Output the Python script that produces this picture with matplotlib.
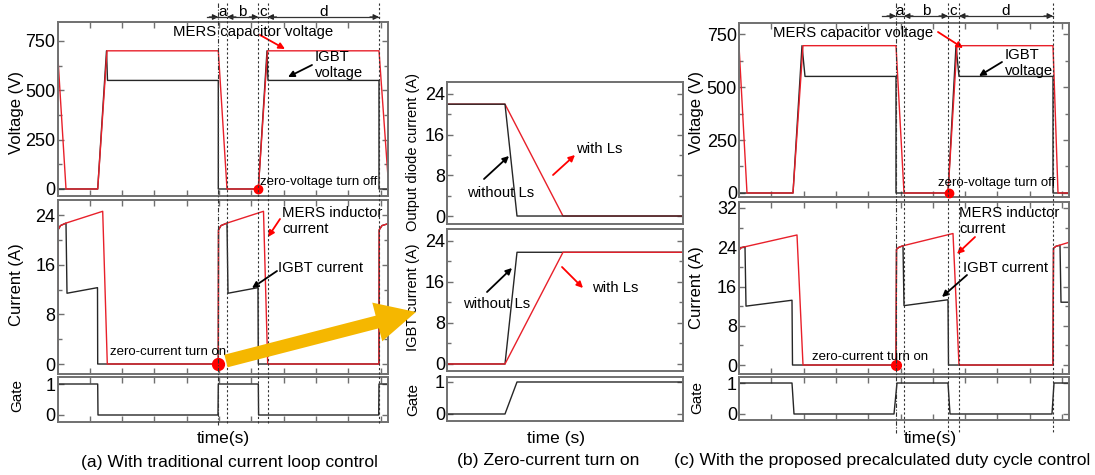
import numpy as np
import matplotlib
matplotlib.use("Agg")
import matplotlib.pyplot as plt
from matplotlib.patches import FancyArrowPatch, Polygon
from matplotlib.lines import Line2D
import matplotlib.transforms as mtransforms

plt.rcParams['font.family'] = ['Liberation Sans', 'DejaVu Sans']

# ---------------- data (time in arbitrary units) ----------------
# (a) traditional current loop control
a_t_vcap = [0, 0.85, 4.02, 4.95, 16.08, 16.95, 20.08, 21.0, 32.15, 33.05]
a_vcap = [700, 0, 0, 700, 700, 0, 0, 700, 700, 60]
a_t_vigbt = [0, 4.02, 4.9, 5.0, 16.08, 16.08, 20.08, 20.95, 21.05, 32.15, 32.15, 33.05]
a_vigbt = [0, 0, 700, 550, 550, 0, 0, 700, 550, 550, 0, 0]
a_t_iL = [0, 0.05, 0.3, 0.85, 4.52, 4.98, 16.08, 16.1, 16.35, 16.95, 20.6, 21.02,
          32.15, 32.17, 32.45, 33.05]
a_iL = [3, 21.6, 22.3, 22.7, 24.6, 0, 0, 21.6, 22.3, 22.7, 24.6, 0, 0, 21.6, 22.3, 22.6]
a_t_iigbt = [0, 0.05, 0.3, 0.85, 0.95, 4.0, 4.02, 16.08, 16.1, 16.35, 16.95, 17.05,
             20.05, 20.08, 32.15, 32.17, 32.45, 33.05]
a_iigbt = [3, 21.6, 22.3, 22.7, 11.4, 12.3, 0, 0, 21.6, 22.3, 22.7, 11.4, 12.3, 0, 0,
           21.6, 22.3, 22.6]
a_t_gate = [0, 4.02, 4.05, 16.05, 16.08, 20.08, 20.11, 32.12, 32.15, 33.05]
a_gate = [1, 1, 0, 0, 1, 1, 0, 0, 1, 1]
a_marks = [16.08, 16.95, 20.08, 21.0, 32.15]
a_zvs = (20.08, 0)
a_zcs = (16.08, 0)

# (b) zero-current turn on
b_t_wo = [0, 5.8, 7.0, 23.6]
b_t_w = [0, 5.8, 11.6, 23.6]
b_diode_wo = [22, 22, 0, 0]
b_diode_w = [22, 22, 0, 0]
b_igbt_wo = [0, 0, 21.8, 21.8]
b_igbt_w = [0, 0, 21.8, 21.8]
b_t_gate = [0, 5.8, 7.0, 23.6]
b_gate = [0, 0, 1, 1]

# (c) proposed precalculated duty cycle control
c_t_vcap = [0, 0.8, 5.4, 6.4, 15.7, 16.5, 20.9, 21.8, 31.4, 31.9, 33.0]
c_vcap = [695, 0, 0, 695, 695, 0, 0, 695, 695, 0, 0]
c_t_vigbt = [0, 5.4, 6.3, 6.6, 15.7, 15.7, 20.9, 21.7, 22.0, 31.4, 31.4, 33.0]
c_vigbt = [0, 0, 695, 550, 550, 0, 0, 695, 550, 550, 0, 0]
c_t_iL = [0, 0.03, 0.2, 0.6, 5.8, 6.4, 15.7, 15.75, 16.0, 16.4, 21.4, 22.0,
          31.4, 31.45, 31.7, 33.0]
c_iL = [0, 23.5, 23.9, 24.1, 26.5, 0, 0, 23.6, 24.0, 24.3, 26.8, 0, 0, 23.8, 24.2, 25.0]
c_t_iigbt = [0, 0.03, 0.2, 0.6, 0.7, 5.3, 5.35, 15.7, 15.75, 16.0, 16.4, 16.5, 20.9,
             20.95, 31.4, 31.45, 31.7, 32.1, 32.2, 33.0]
c_iigbt = [0, 23.5, 23.9, 24.1, 12.0, 13.2, 0, 0, 23.6, 24.0, 24.3, 12.1, 13.3, 0, 0,
           23.8, 24.2, 24.4, 12.8, 12.8]
c_t_gate = [0, 5.3, 5.5, 15.5, 15.8, 20.9, 21.1, 31.3, 31.5, 33.0]
c_gate = [1, 1, 0, 0, 1, 1, 0, 0, 1, 1]
c_marks = [15.7, 16.5, 20.9, 22.0, 31.4]
c_zvs = (21.0, 0)
c_zcs = (15.7, 0)

interval_labels = ['a', 'b', 'c', 'd']

# ---------------- styling ----------------
W, H = 1095, 475
RED = '#e8202a'
BLK = '#262626'
SPINE = '#707070'
fig = plt.figure(figsize=(W / 100, H / 100), dpi=100)


def add_ax(l, t, r, b):
    return fig.add_axes([l / W, 1 - b / H, (r - l) / W, (b - t) / H])


def P(x, y):
    return (x / 100.0, (H - y) / 100.0)


def T(x, y, s, size, ha='left', va='center', rot=0, color='black'):
    fig.text(x / 100.0, (H - y) / 100.0, s, transform=fig.dpi_scale_trans,
             fontsize=size, ha=ha, va=va, rotation=rot, color=color)


def A(x1, y1, x2, y2, color):
    fig.add_artist(FancyArrowPatch(P(x1, y1), P(x2, y2), transform=fig.dpi_scale_trans,
                                   arrowstyle='-|>', mutation_scale=9, lw=1.3,
                                   color=color, shrinkA=0, shrinkB=0))


def style(ax, xlim, ylim, yt, ym, xt=None, lsize=13):
    ax.set_xlim(*xlim)
    ax.set_ylim(*ylim)
    ax.set_yticks(yt)
    ax.set_yticklabels([str(v) for v in yt])
    if ym is not None:
        ax.set_yticks(ym, minor=True)
    if xt is not None:
        ax.set_xticks(xt)
    else:
        ax.set_xticks([])
    ax.set_xticklabels([])
    for s in ax.spines.values():
        s.set_color(SPINE)
        s.set_linewidth(1.4)
    ax.tick_params(which='both', direction='in', top=True, right=True,
                   color=SPINE, labelsize=lsize, pad=1.5)
    ax.tick_params(which='major', length=4, width=1)
    ax.tick_params(which='minor', length=3, width=1)


xt_lr = np.arange(3.23, 33.0, 3.23)

# ---------------- panel (a) ----------------
vL = add_ax(57.5, 22, 388, 196)
iL = add_ax(57.5, 200, 388, 374)
gL = add_ax(57.5, 377, 388, 422)
vL.plot(a_t_vigbt, a_vigbt, color=BLK, lw=1.0)
vL.plot(a_t_vcap, a_vcap, color=RED, lw=1.0)
iL.plot(a_t_iigbt, a_iigbt, color=BLK, lw=1.0)
iL.plot(a_t_iL, a_iL, color=RED, lw=1.0)
gL.plot(a_t_gate, a_gate, color=BLK, lw=1.0)
style(vL, (0, 33.05), (-35.5, 846), [0, 250, 500, 750], [125, 375, 625], xt_lr)
style(iL, (0, 33.05), (-1.61, 26.42), [0, 8, 16, 24], [4, 12, 20], xt_lr)
style(gL, (0, 33.05), (-0.226, 1.226), [0, 1], None, xt_lr)
vL.plot(*a_zvs, 'o', color='red', ms=6, clip_on=False, zorder=5)
iL.plot(*a_zcs, 'o', color='red', ms=8.5, clip_on=False, zorder=5)

# ---------------- panel (b) ----------------
dM = add_ax(447, 82, 683, 224)
iM = add_ax(447, 229, 683, 371)
gM = add_ax(447, 377, 683, 421)
dM.plot(b_t_w, b_diode_w, color=RED, lw=1.0)
dM.plot(b_t_wo, b_diode_wo, color=BLK, lw=1.0)
iM.plot(b_t_wo, b_igbt_wo, color=BLK, lw=1.0)
iM.plot(b_t_w, b_igbt_w, color=RED, lw=1.0)
gM.plot(b_t_gate, b_gate, color=BLK, lw=1.0)
style(dM, (0, 23.6), (-1.57, 26.36), [0, 8, 16, 24], [4, 12, 20])
style(iM, (0, 23.6), (-1.37, 26.34), [0, 8, 16, 24], [4, 12, 20])
style(gM, (0, 23.6), (-0.219, 1.156), [0, 1], None)

# ---------------- panel (c) ----------------
vR = add_ax(739, 23, 1069, 197)
iR = add_ax(739, 202, 1069, 374)
gR = add_ax(739, 377, 1069, 420)
vR.plot(c_t_vigbt, c_vigbt, color=BLK, lw=1.0)
vR.plot(c_t_vcap, c_vcap, color=RED, lw=1.0)
iR.plot(c_t_iigbt, c_iigbt, color=BLK, lw=1.0)
iR.plot(c_t_iL, c_iL, color=RED, lw=1.0)
gR.plot(c_t_gate, c_gate, color=BLK, lw=1.0)
style(vR, (0, 33.0), (-18.9, 802), [0, 250, 500, 750], [125, 375, 625], xt_lr)
style(iR, (0, 33.0), (-1.83, 33.22), [0, 8, 16, 24, 32], [4, 12, 20, 28], xt_lr)
style(gR, (0, 33.0), (-0.194, 1.194), [0, 1], None, xt_lr)
vR.plot(*c_zvs, 'o', color='red', ms=6, clip_on=False, zorder=5)
iR.plot(*c_zcs, 'o', color='red', ms=7, clip_on=False, zorder=5)


# ---------------- interval markers ----------------
def markers(ax, marks, y_top, y_bot, y_arrow, x_start):
    tr = mtransforms.blended_transform_factory(ax.transData, fig.dpi_scale_trans)
    yt = (H - y_top) / 100.0
    yb = (H - y_bot) / 100.0
    ya = (H - y_arrow) / 100.0
    for k, m in enumerate(marks):
        ls = (0, (4, 1.5, 1, 1.5)) if k == 0 else (0, (2, 2))
        fig.add_artist(Line2D([m, m], [yt, yb], transform=tr, color='#333333',
                              lw=0.8, ls=ls, clip_on=False))
    fig.add_artist(Line2D([x_start, marks[-1]], [ya, ya], transform=tr,
                          color='#333333', lw=0.9, clip_on=False))
    for k, m in enumerate(marks):
        d = -0.9 if k % 2 == 0 else 0.9
        fig.add_artist(FancyArrowPatch((m + d, ya), (m, ya), transform=tr,
                                       arrowstyle='-|>', mutation_scale=8, lw=0.9,
                                       color='#222222', shrinkA=0, shrinkB=0))
    for k, lab in enumerate(interval_labels):
        xc = 0.5 * (marks[k] + marks[k + 1])
        fig.text(xc, ya + 0.055, lab, transform=tr, ha='center', va='center',
                 fontsize=11)


markers(vL, a_marks, 3, 425, 17, 14.95)
markers(vR, c_marks, 3, 433, 16, 14.3)

# ---------------- labels ----------------
T(17, 112, 'Voltage (V)', 12, ha='center', rot=90)
T(17, 285, 'Current (A)', 12, ha='center', rot=90)
T(17, 396, 'Gate', 11, ha='center', rot=90)
T(223, 438, 'time(s)', 12.5, ha='center')
T(229, 462, '(a) With traditional current loop control', 12.6, ha='center')

T(413, 152, 'Output diode current (A)', 10.5, ha='center', rot=90)
T(413, 297, 'IGBT current (A)', 10.5, ha='center', rot=90)
T(413, 400, 'Gate', 11, ha='center', rot=90)
T(556, 438, 'time (s)', 12.5, ha='center')
T(548, 461, '(b) Zero-current turn on', 12.6, ha='center')

T(697, 112, 'Voltage (V)', 12, ha='center', rot=90)
T(697, 288, 'Current (A)', 12, ha='center', rot=90)
T(697, 398, 'Gate', 11, ha='center', rot=90)
T(930, 438, 'time(s)', 12.5, ha='center')
T(882, 461, '(c) With the proposed precalculated duty cycle control', 12.6, ha='center')

# annotations panel (a)
T(173, 32, 'MERS capacitor voltage', 10.7)
A(260, 35, 285, 49, 'red')
T(315, 65, 'IGBT\nvoltage', 10.7, va='center')
A(312, 65, 288, 77, 'black')
T(260, 182, 'zero-voltage turn off', 9.5)
T(282, 221, 'MERS inductor\ncurrent', 10.7)
A(280, 219, 268, 237, 'red')
T(278, 268, 'IGBT current', 10.7)
A(277, 271, 252, 288, 'black')
T(110, 352, 'zero-current turn on', 9.5)

# annotations panel (b)
T(467, 193, 'without Ls', 10.7)
A(484, 179, 509, 156, 'black')
T(576, 149, 'with Ls', 10.7)
A(553, 175, 575, 155, 'red')
T(463, 304, 'without Ls', 10.7)
A(487, 292, 512, 268, 'black')
T(592, 288, 'with Ls', 10.7)
A(562, 267, 583, 288, 'red')

# annotations panel (c)
T(773, 33, 'MERS capacitor voltage', 10.7)
A(938, 32, 963, 48, 'red')
T(1005, 63, 'IGBT\nvoltage', 10.7, va='center')
A(1002, 62, 979, 76, 'black')
T(938, 183, 'zero-voltage turn off', 9.5)
T(959, 221, 'MERS inductor\ncurrent', 10.7)
A(975, 237, 957, 254, 'red')
T(963, 268, 'IGBT current', 10.7)
A(967, 275, 942, 297, 'black')
T(812, 357, 'zero-current turn on', 9.5)

# ---------------- big yellow arrow ----------------
start = np.array([226.0, 361.0])
tip = np.array([416.0, 312.0])
u = (tip - start) / np.linalg.norm(tip - start)
n = np.array([-u[1], u[0]])
hw, HW, HL = 6.5, 20.0, 40.0
base = tip - HL * u
pts_px = [start + hw * n, base + hw * n, base + HW * n, tip,
          base - HW * n, base - hw * n, start - hw * n]
poly = Polygon([P(*p) for p in pts_px], closed=True, transform=fig.dpi_scale_trans,
               facecolor='#f5b700', edgecolor='none', zorder=10)
fig.add_artist(poly)

fig.savefig('out.png', dpi=100)
